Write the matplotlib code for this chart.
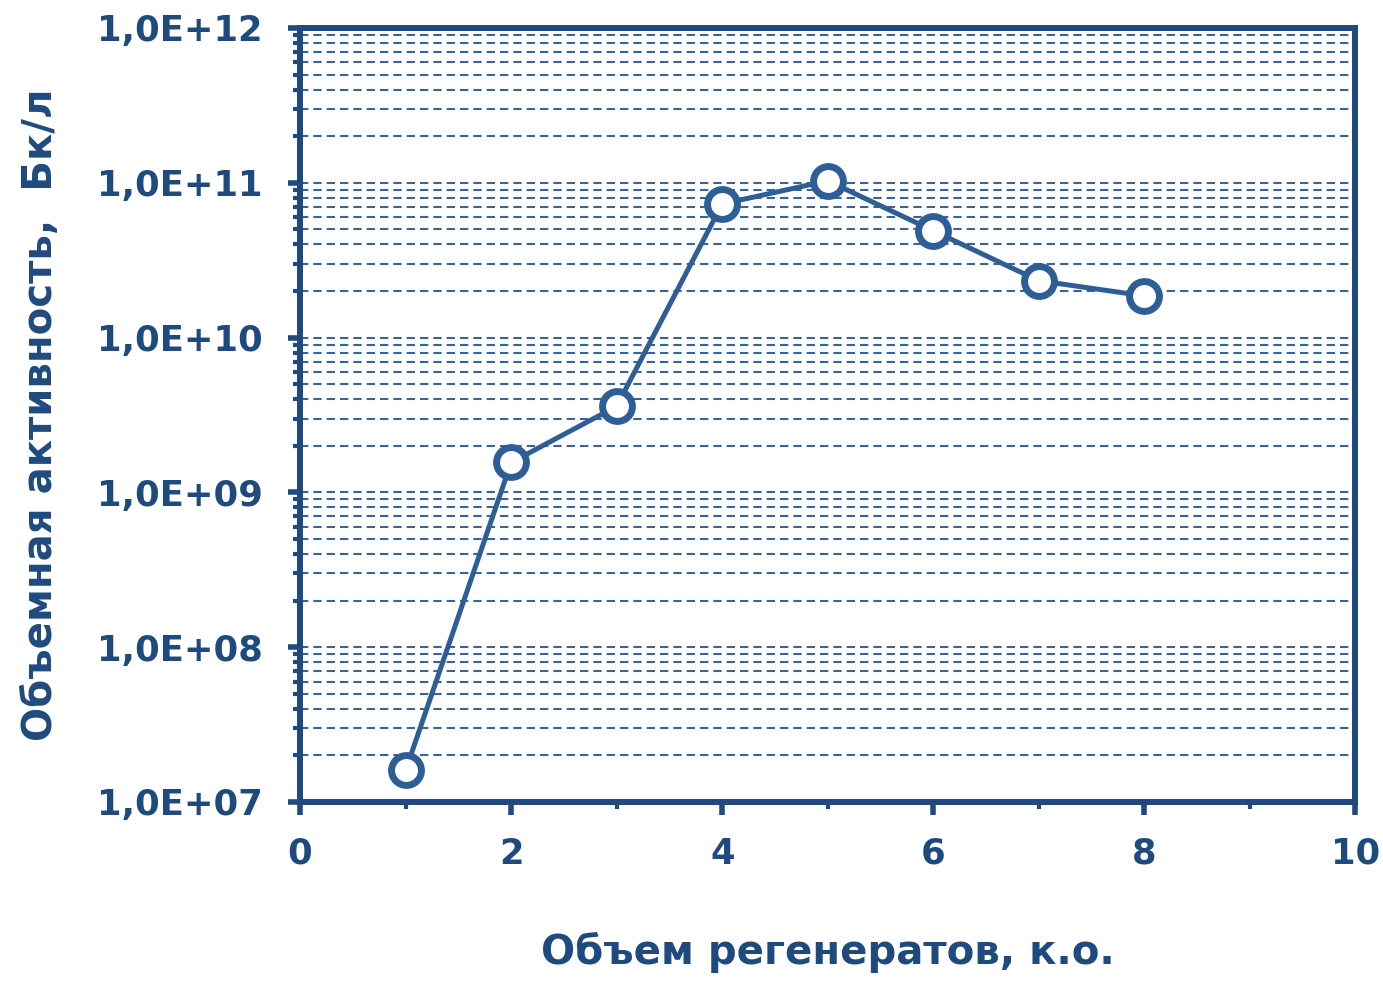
import math
import matplotlib.pyplot as plt
from matplotlib.ticker import FuncFormatter, LogLocator, MultipleLocator

# Activity vs. regenerate volume
volume = [1, 2, 3, 4, 5, 6, 7, 8]
activity = [1.6e7, 1.56e9, 3.6e9, 7.3e10, 1.03e11, 4.9e10, 2.33e10, 1.86e10]

dark = '#1F4A7E'
line_col = '#2E5E96'

plt.rcParams['font.family'] = ['DejaVu Sans']
plt.rcParams['font.weight'] = 'bold'

fig = plt.figure(figsize=(13.83, 9.82), dpi=100)
ax = fig.add_axes([0.217, 0.1833, 0.763, 0.7882])

ax.plot(volume, activity, color=line_col, lw=3.6, marker='o', ms=21.5,
        mfc='white', mec=line_col, mew=5, zorder=5)

ax.set_yscale('log')
ax.set_ylim(1e7, 1e12)
ax.set_xlim(0, 10)

ax.yaxis.set_major_locator(LogLocator(base=10, numticks=10))
ax.yaxis.set_minor_locator(LogLocator(base=10, subs=range(2, 10), numticks=10))
ax.yaxis.set_major_formatter(FuncFormatter(lambda v, p: '1,0E+%02d' % round(math.log10(v))))
ax.xaxis.set_major_locator(MultipleLocator(2))
ax.xaxis.set_minor_locator(MultipleLocator(1))

ax.grid(True, which='both', axis='y', color='#3A6498', lw=1.5, ls=(0, (4, 2.4)))

for s in ax.spines.values():
    s.set_color(dark)
    s.set_linewidth(4.3)

ax.tick_params(axis='both', which='major', length=9, width=4, color=dark,
               labelcolor=dark, labelsize=25.5, direction='out')
ax.tick_params(axis='both', which='minor', length=5, width=3, color=dark,
               direction='out')
ax.tick_params(axis='y', which='major', pad=18)
ax.tick_params(axis='x', which='major', pad=16)

ax.set_xlabel('Объем регенератов, к.о.', fontsize=29, color=dark,
              fontweight='bold', labelpad=44)
ax.set_ylabel('Объемная активность,  Бк/л', fontsize=29, color=dark,
              fontweight='bold', labelpad=26)

fig.savefig('out.png', dpi=100)
